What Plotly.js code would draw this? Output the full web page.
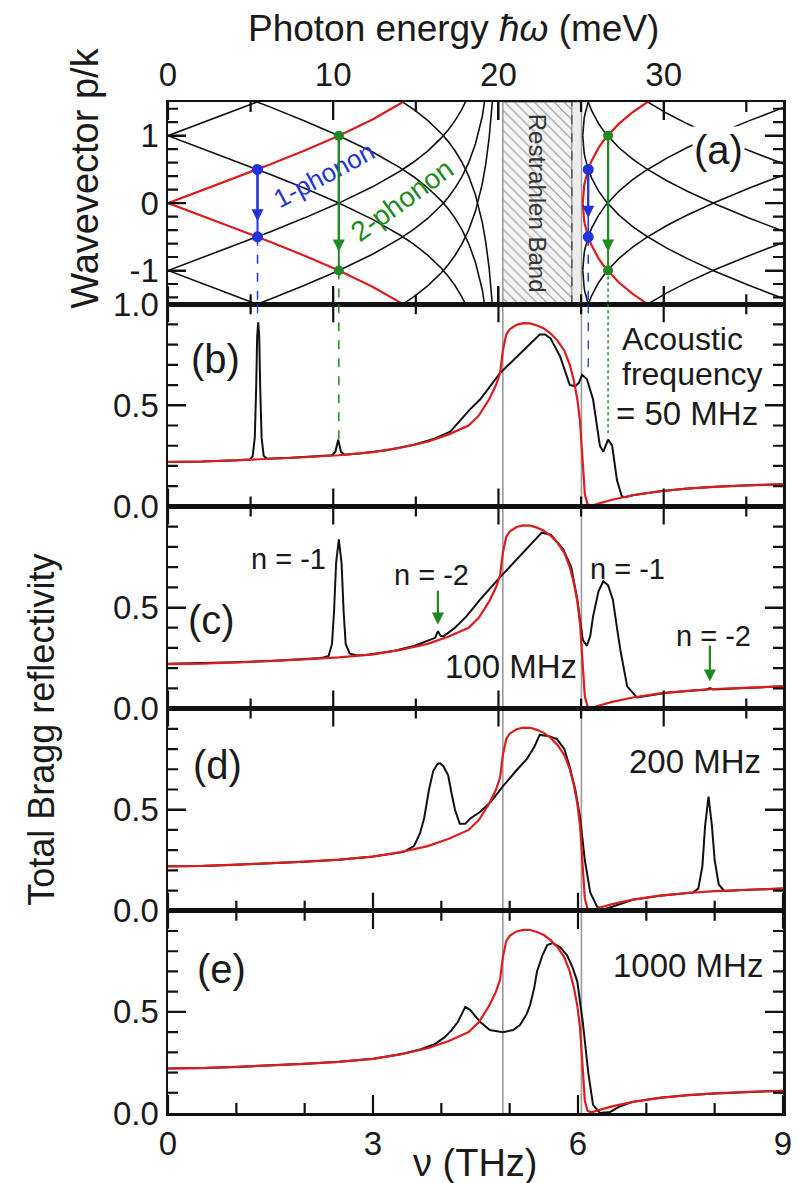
<!DOCTYPE html>
<html>
<head>
<meta charset="utf-8">
<script src="https://cdn.plot.ly/plotly-3.0.1.min.js"></script>
<style>html,body{margin:0;padding:0;background:#fff}</style>
</head>
<body>
<div id="chart" style="width:800px;height:1183px"></div>
<script>
// ---------- data ----------
// polariton dispersion p/k, lower branch (below TO) and upper branch (above LO)
const lowerNu = [0, 0.5, 1.0, 1.5, 2.0, 2.5, 3.0, 3.2, 3.4, 3.6, 3.8, 4.0, 4.1, 4.2, 4.3, 4.4, 4.5, 4.6, 4.65, 4.7, 4.75, 4.78, 4.8, 4.83, 4.85, 4.86, 4.87, 4.88, 4.89];
const lowerK  = [0, 0.189, 0.380, 0.576, 0.781, 1.000, 1.245, 1.356, 1.477, 1.613, 1.772, 1.967, 2.084, 2.223, 2.390, 2.600, 2.881, 3.289, 3.578, 3.971, 4.547, 5.056, 5.518, 6.557, 7.727, 8.620, 9.93, 12.14, 17.13];
const upperNu = [6.07, 6.075, 6.08, 6.09, 6.10, 6.12, 6.15, 6.20, 6.25, 6.30, 6.40, 6.50, 6.60, 6.80, 7.00, 7.30, 7.60, 8.00, 8.50, 9.00];
const upperK  = [0, 0.132, 0.183, 0.256, 0.311, 0.399, 0.500, 0.629, 0.732, 0.819, 0.962, 1.079, 1.179, 1.348, 1.488, 1.668, 1.824, 2.010, 2.220, 2.415];
// zone-folding orders drawn in black (order 0 is the bare branch, in red)
const foldLower = [-1, 1, 2, 3];
const foldUpper = [-1, 1, 2, 3];

// restrahlen band edges (THz) and the inner dashed edge
const bandEdges = [4.90, 6.05];
const bandInner = 5.91;

// phonon-assisted transitions: frequency (THz), p/k of the two states, peak reached in (b)
const onePhononNu = [1.31, 6.15];
const onePhononK  = [0.5, -0.5];
const onePhononPeak = [0.93, 0.66];
const twoPhononNu = [2.50, 6.44];
const twoPhononK  = [1.0, -1.0];
const twoPhononPeak = [0.33, 0.36];

// bulk reflectivity (red, same in every panel)
const nuRef = [0, 0.5, 1.0, 1.5, 2.0, 2.5, 3.0, 3.4, 3.8, 4.1, 4.4, 4.55, 4.7, 4.8, 4.86, 4.9, 4.95, 5.0, 5.1, 5.2, 5.3, 5.4, 5.5, 5.6, 5.7, 5.8, 5.88, 5.94, 5.99, 6.03, 6.06, 6.08, 6.1, 6.14, 6.2, 6.3, 6.5, 6.8, 7.2, 7.6, 8.0, 8.5, 9.0];
const rRef  = [0.220, 0.222, 0.228, 0.235, 0.243, 0.253, 0.268, 0.29, 0.32, 0.355, 0.40, 0.45, 0.53, 0.60, 0.66, 0.77, 0.85, 0.876, 0.898, 0.906, 0.905, 0.895, 0.88, 0.855, 0.82, 0.77, 0.70, 0.62, 0.53, 0.42, 0.27, 0.15, 0.06, 0.01, 0.003, 0.014, 0.033, 0.055, 0.075, 0.088, 0.097, 0.104, 0.11];

// total Bragg reflectivity, 50 MHz
const nuB = [0, 0.5, 1.0, 1.2, 1.24, 1.27, 1.29, 1.305, 1.32, 1.335, 1.35, 1.37, 1.40, 1.45, 1.8, 2.2, 2.40, 2.45, 2.475, 2.49, 2.505, 2.53, 2.58, 2.8, 3.2, 3.6, 3.9, 4.13, 4.42, 4.57, 4.86, 5.44, 5.52, 5.6, 5.74, 5.88, 5.96, 6.01, 6.06, 6.13, 6.22, 6.32, 6.37, 6.44, 6.50, 6.57, 6.64, 6.69, 6.8, 7.2, 7.6, 8.0, 8.5, 9.0];
const rB  = [0.220, 0.222, 0.228, 0.232, 0.25, 0.34, 0.58, 0.84, 0.91, 0.84, 0.58, 0.34, 0.25, 0.236, 0.240, 0.247, 0.253, 0.27, 0.31, 0.33, 0.31, 0.27, 0.256, 0.262, 0.278, 0.305, 0.335, 0.37, 0.48, 0.53, 0.66, 0.85, 0.85, 0.83, 0.74, 0.60, 0.595, 0.61, 0.65, 0.63, 0.53, 0.30, 0.27, 0.33, 0.30, 0.13, 0.05, 0.045, 0.055, 0.075, 0.088, 0.097, 0.104, 0.11];

// 100 MHz
const nuC = [0, 0.5, 1.0, 1.5, 2.0, 2.25, 2.35, 2.40, 2.43, 2.46, 2.50, 2.54, 2.57, 2.60, 2.66, 2.75, 2.9, 3.3, 3.6, 3.83, 3.91, 3.95, 3.99, 4.03, 4.2, 4.37, 4.57, 4.86, 5.47, 5.6, 5.78, 5.9, 5.99, 6.07, 6.13, 6.18, 6.22, 6.30, 6.37, 6.44, 6.51, 6.57, 6.62, 6.72, 6.86, 6.95, 7.3, 7.7, 7.88, 7.93, 7.98, 8.3, 9.0];
const rC  = [0.222, 0.224, 0.229, 0.236, 0.244, 0.25, 0.26, 0.32, 0.48, 0.72, 0.837, 0.72, 0.48, 0.32, 0.272, 0.264, 0.265, 0.285, 0.31, 0.34, 0.35, 0.383, 0.36, 0.357, 0.40, 0.457, 0.54, 0.65, 0.87, 0.86, 0.79, 0.70, 0.54, 0.34, 0.31, 0.36, 0.455, 0.58, 0.63, 0.61, 0.54, 0.40, 0.29, 0.11, 0.055, 0.06, 0.078, 0.09, 0.094, 0.102, 0.095, 0.1, 0.11];

// 200 MHz
const nuD = [0, 0.5, 1.0, 1.5, 2.0, 2.5, 3.0, 3.44, 3.6, 3.69, 3.75, 3.82, 3.88, 3.94, 3.98, 4.03, 4.10, 4.15, 4.20, 4.27, 4.35, 4.42, 4.57, 4.74, 4.90, 5.1, 5.25, 5.36, 5.44, 5.56, 5.69, 5.80, 5.88, 5.96, 6.03, 6.10, 6.18, 6.28, 6.37, 6.5, 6.61, 6.8, 7.2, 7.5, 7.68, 7.76, 7.82, 7.86, 7.91, 7.96, 8.0, 8.06, 8.14, 8.5, 9.0];
const rD  = [0.220, 0.222, 0.228, 0.235, 0.243, 0.253, 0.268, 0.29, 0.32, 0.385, 0.46, 0.60, 0.69, 0.725, 0.73, 0.715, 0.67, 0.58, 0.50, 0.43, 0.43, 0.455, 0.49, 0.545, 0.615, 0.695, 0.75, 0.81, 0.87, 0.865, 0.85, 0.80, 0.71, 0.60, 0.465, 0.25, 0.09, 0.02, 0.005, 0.02, 0.033, 0.055, 0.075, 0.085, 0.09, 0.11, 0.22, 0.42, 0.565, 0.42, 0.25, 0.13, 0.098, 0.104, 0.11];

// 1000 MHz
const nuE = [0, 0.5, 1.0, 1.5, 2.0, 2.5, 3.0, 3.4, 3.7, 3.9, 4.05, 4.15, 4.24, 4.30, 4.35, 4.42, 4.5, 4.57, 4.71, 4.90, 5.05, 5.15, 5.25, 5.30, 5.36, 5.40, 5.48, 5.55, 5.63, 5.74, 5.84, 5.92, 5.99, 6.07, 6.15, 6.22, 6.32, 6.47, 6.6, 6.8, 7.2, 7.6, 8.0, 8.5, 9.0];
const rE  = [0.220, 0.222, 0.228, 0.235, 0.243, 0.253, 0.268, 0.29, 0.315, 0.34, 0.375, 0.41, 0.45, 0.49, 0.525, 0.51, 0.475, 0.45, 0.41, 0.40, 0.41, 0.435, 0.49, 0.535, 0.62, 0.70, 0.78, 0.83, 0.84, 0.82, 0.78, 0.72, 0.65, 0.45, 0.20, 0.04, 0.0, 0.005, 0.03, 0.055, 0.075, 0.088, 0.097, 0.104, 0.11];

// tick positions
const meVMajor = [0, 10, 20, 30];
const meVMinor = [5, 15, 25, 35];
const thzMajor = [0, 3, 6, 9];
const thzMinor = [1, 2, 4, 5, 7, 8];
const kMajor = [-1, 0, 1];
const kMinor = [-1.4, -1.2, -0.8, -0.6, -0.4, -0.2, 0.2, 0.4, 0.6, 0.8, 1.2, 1.4];
const reflMajor = [0.5];
const reflMinor = [0.1, 0.2, 0.3, 0.4, 0.6, 0.7, 0.8, 0.9];
const MEV_PER_THZ = 4.13567;

// ---------- style ----------
const FONT = "'Liberation Sans', Arial, sans-serif";
const BLACK = '#111111', RED = '#dd1d1d', BLUE = '#2233dd', GREEN = '#1f8a24', GREY = '#9a9a9a';
const toTHz = e => e / MEV_PER_THZ;
const X_RANGE = [0, 9];
const K_RANGE = [-1.5, 1.5];
const R_RANGE = [0, 1];

const traces = [];
function line(x, y, xa, ya, color, width, dash) {
  traces.push({type: 'scatter', mode: 'lines', x: x, y: y, xaxis: xa, yaxis: ya,
    line: {color: color, width: width, dash: dash || 'solid'}, hoverinfo: 'skip', showlegend: false});
}

// ---------- panel (a): folded dispersion ----------
traces.push({type: 'scatter', mode: 'lines', xaxis: 'x', yaxis: 'y',
  x: [bandEdges[0], bandInner, bandInner, bandEdges[0], bandEdges[0]], y: [-1.5, -1.5, 1.5, 1.5, -1.5],
  fill: 'toself',
  fillpattern: {shape: '\\', fgcolor: '#a5a5a5', bgcolor: '#f5f5f5', size: 7, solidity: 0.18},
  line: {color: GREY, width: 1.5}, hoverinfo: 'skip', showlegend: false});
traces.push({type: 'scatter', mode: 'lines', xaxis: 'x', yaxis: 'y',
  x: [bandInner, bandEdges[1], bandEdges[1], bandInner, bandInner], y: [-1.5, -1.5, 1.5, 1.5, -1.5],
  fill: 'toself', fillcolor: '#ececec',
  line: {color: GREY, width: 1.2}, hoverinfo: 'skip', showlegend: false});
line([bandInner, bandInner], [-1.5, 1.5], 'x', 'y', '#555', 1.5, 'dash');

[1, -1].forEach(s => {
  foldLower.forEach(m => line(lowerNu, lowerK.map(k => s * (k - m)), 'x', 'y', BLACK, 1.6));
  foldUpper.forEach(m => line(upperNu, upperK.map(k => s * (k - m)), 'x', 'y', BLACK, 1.6));
});
[1, -1].forEach(s => {
  line(lowerNu, lowerK.map(k => s * k), 'x', 'y', RED, 2.2);
  line(upperNu, upperK.map(k => s * k), 'x', 'y', RED, 2.2);
});

// transitions between the two states, and their projections onto (b)
onePhononNu.forEach((nu, i) => {
  line([nu, nu], onePhononK, 'x', 'y', BLUE, i === 0 ? 2 : 1.5);
  line([nu, nu], [onePhononK[1], -1.5], 'x', 'y', BLUE, 1.5, 'dash');
  line([nu, nu], [1, onePhononPeak[i]], 'x2', 'y2', BLUE, 1.3, 'dash');
  traces.push({type: 'scatter', mode: 'markers', x: [nu, nu], y: onePhononK, xaxis: 'x', yaxis: 'y',
    marker: {color: BLUE, size: 11}, hoverinfo: 'skip', showlegend: false});
});
twoPhononNu.forEach((nu, i) => {
  line([nu, nu], twoPhononK, 'x', 'y', GREEN, 2);
  line([nu, nu], [twoPhononK[1], -1.5], 'x', 'y', GREEN, 1.5, i === 0 ? 'dash' : 'dot');
  line([nu, nu], [1, twoPhononPeak[i]], 'x2', 'y2', GREEN, 1.5, i === 0 ? 'dash' : 'dot');
  traces.push({type: 'scatter', mode: 'markers', x: [nu, nu], y: twoPhononK, xaxis: 'x', yaxis: 'y',
    marker: {color: GREEN, size: 10}, hoverinfo: 'skip', showlegend: false});
});

// ---------- panels (b)-(e): reflectivity ----------
[[nuB, rB, 'x2', 'y2'], [nuC, rC, 'x3', 'y3'], [nuD, rD, 'x4', 'y4'], [nuE, rE, 'x5', 'y5']].forEach(p => {
  line(p[0], p[1], p[2], p[3], BLACK, 2);
  line(nuRef, rRef, p[2], p[3], RED, 2.2);
});

// ---------- inward tick marks on every panel edge ----------
const PANEL_H = 1011 * 0.2, PANEL_W = 615;
const TICK_MAJOR = 18, TICK_MINOR = 10;
function tickMarks(xa, ya, yRange, xTop, xBottom, yMajor, yMinor) {
  const dx = (X_RANGE[1] - X_RANGE[0]) / PANEL_W, dy = (yRange[1] - yRange[0]) / PANEL_H;
  const xs = [], ys = [];
  const seg = (x0, y0, x1, y1) => { xs.push(x0, x1, null); ys.push(y0, y1, null); };
  [[xTop, yRange[1], -1], [xBottom, yRange[0], 1]].forEach(([set, edge, dir]) => {
    set[0].forEach(v => seg(v, edge, v, edge + dir * TICK_MAJOR * dy));
    set[1].forEach(v => seg(v, edge, v, edge + dir * TICK_MINOR * dy));
  });
  [[X_RANGE[0], 1], [X_RANGE[1], -1]].forEach(([edge, dir]) => {
    yMajor.forEach(v => seg(edge, v, edge + dir * TICK_MAJOR * dx, v));
    yMinor.forEach(v => seg(edge, v, edge + dir * TICK_MINOR * dx, v));
  });
  traces.push({type: 'scatter', mode: 'lines', x: xs, y: ys, xaxis: xa, yaxis: ya, connectgaps: false,
    line: {color: BLACK, width: 2.2}, hoverinfo: 'skip', showlegend: false});
}
const meVTicks = [meVMajor.map(toTHz), meVMinor.map(toTHz)];
const thzTicks = [thzMajor, thzMinor];
tickMarks('x',  'y',  K_RANGE, meVTicks, meVTicks, kMajor, kMinor);
tickMarks('x2', 'y2', R_RANGE, meVTicks, meVTicks, reflMajor, reflMinor);
tickMarks('x3', 'y3', R_RANGE, meVTicks, meVTicks, reflMajor, reflMinor);
tickMarks('x4', 'y4', R_RANGE, meVTicks, thzTicks, reflMajor, reflMinor);
tickMarks('x5', 'y5', R_RANGE, thzTicks, thzTicks, reflMajor, reflMinor);

// ---------- axes ----------
const tickFont = {family: FONT, size: 33, color: '#1a1a1a'};
const base = {showline: true, linecolor: BLACK, linewidth: 2.5, mirror: 'ticks', ticks: 'inside',
  ticklen: TICK_MAJOR, tickwidth: 2, tickcolor: BLACK, showgrid: false, zeroline: false, tickfont: tickFont};
const panelDomains = [[0.8, 1.0], [0.6, 0.8], [0.4, 0.6], [0.2, 0.4], [0.0, 0.2]];

function xAxis(i, extra) {
  return Object.assign({}, base, {anchor: 'y' + (i ? i + 1 : ''), range: X_RANGE, showticklabels: false,
    mirror: true, ticks: ''}, extra);
}
function reflAxis(i, labels) {
  return Object.assign({}, base, {domain: panelDomains[i], anchor: 'x' + (i + 1), range: R_RANGE,
    tickmode: 'array', tickvals: labels, ticktext: labels.map(v => v.toFixed(1))});
}

const layout = {
  width: 800, height: 1183,
  margin: {l: 168, r: 17, t: 102, b: 70},
  paper_bgcolor: '#fff', plot_bgcolor: '#fff',
  font: {family: FONT, color: '#1a1a1a'},
  showlegend: false,
  xaxis:  xAxis(0, {side: 'top', showticklabels: true, tickmode: 'array', mirror: 'ticks', ticks: 'inside',
    tickvals: meVMajor.map(toTHz), ticktext: meVMajor.map(String)}),
  xaxis2: xAxis(1),
  xaxis3: xAxis(2),
  xaxis4: xAxis(3),
  xaxis5: xAxis(4, {showticklabels: true, tickmode: 'array', mirror: 'ticks', ticks: 'inside',
    tickvals: thzMajor, ticktext: thzMajor.map(String)}),
  yaxis: Object.assign({}, base, {domain: panelDomains[0], anchor: 'x', range: K_RANGE,
    tickmode: 'array', tickvals: kMajor, ticktext: kMajor.map(String)}),
  yaxis2: reflAxis(1, [0, 0.5, 1.0]),
  yaxis3: reflAxis(2, [0, 0.5]),
  yaxis4: reflAxis(3, [0, 0.5]),
  yaxis5: reflAxis(4, [0, 0.5]),
  shapes: bandEdges.map(e => ({type: 'line', xref: 'x5', yref: 'paper', x0: e, x1: e, y0: 0, y1: 1,
    line: {color: GREY, width: 1.6}, layer: 'below'})),
  annotations: []
};

const ann = layout.annotations;
function label(text, x, y, xr, yr, size, extra) {
  ann.push(Object.assign({text: text, x: x, y: y, xref: xr, yref: yr, showarrow: false,
    xanchor: 'center', yanchor: 'middle',
    font: {family: FONT, size: size, color: '#1a1a1a'}}, extra || {}));
}
function arrow(x, yTail, yHead, xr, yr, color) {
  ann.push({text: '', x: x, y: yHead, ax: x, ay: yTail, xref: xr, yref: yr, axref: xr, ayref: yr,
    showarrow: true, arrowhead: 2, arrowsize: 1.1, arrowwidth: 2.2, arrowcolor: color, standoff: 0});
}

// axis titles
label('Photon energy <i>ħω</i> (meV)', 0.465, 1.073, 'paper', 'paper', 37);
label('Wavevector p/k', -0.135, 0.925, 'paper', 'paper', 38, {textangle: -90});
label('Total Bragg reflectivity', -0.205, 0.379, 'paper', 'paper', 36, {textangle: -90});
label('ν (THz)', 0.5, -0.0495, 'paper', 'paper', 38);

// panel (a)
label('(a)', 8.05, 0.79, 'x', 'y', 40, {bgcolor: '#ffffff', borderpad: 1});
label('1-phonon', 2.28, 0.42, 'x', 'y', 26, {textangle: -28, font: {family: FONT, size: 26, color: BLUE}});
label('2-phonon', 3.42, 0.04, 'x', 'y', 28, {textangle: -36, font: {family: FONT, size: 28, color: GREEN}});
label('Restrahlen Band', 5.42, 0, 'x', 'y', 24, {textangle: 90, font: {family: FONT, size: 24, color: '#333'}});
onePhononNu.forEach((nu, i) => arrow(nu, onePhononK[0], i === 0 ? -0.27 : -0.22, 'x', 'y', BLUE));
twoPhononNu.forEach(nu => arrow(nu, twoPhononK[0], -0.72, 'x', 'y', GREEN));

// panel (b)
label('(b)', 0.69, 0.73, 'x2', 'y2', 40);
label('Acoustic', 6.62, 0.83, 'x2', 'y2', 32, {xanchor: 'left'});
label('frequency', 6.62, 0.655, 'x2', 'y2', 32, {xanchor: 'left'});
label('= 50 MHz', 6.53, 0.46, 'x2', 'y2', 33, {xanchor: 'left'});

// panel (c)
label('(c)', 0.64, 0.436, 'x3', 'y3', 40);
label('n = -1', 1.76, 0.74, 'x3', 'y3', 29);
label('n = -2', 3.85, 0.66, 'x3', 'y3', 29);
label('100 MHz', 5.02, 0.208, 'x3', 'y3', 33);
label('n = -1', 6.73, 0.69, 'x3', 'y3', 29);
label('n = -2', 7.99, 0.36, 'x3', 'y3', 29);
arrow(3.95, 0.59, 0.415, 'x3', 'y3', GREEN);
arrow(7.93, 0.32, 0.134, 'x3', 'y3', GREEN);

// panel (d)
label('(d)', 0.73, 0.72, 'x4', 'y4', 40);
label('200 MHz', 7.71, 0.74, 'x4', 'y4', 33);

// panel (e)
label('(e)', 0.78, 0.71, 'x5', 'y5', 40);
label('1000 MHz', 7.61, 0.73, 'x5', 'y5', 33);

Plotly.newPlot('chart', traces, layout, {staticPlot: true, displayModeBar: false});
</script>
</body>
</html>
